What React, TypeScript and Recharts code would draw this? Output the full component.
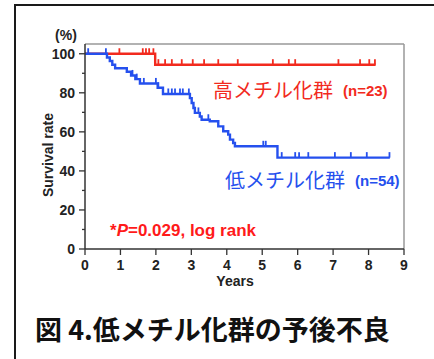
import React from 'react';
import { ComposedChart, Line, Scatter, XAxis, YAxis, ReferenceLine } from 'recharts';

// High-methylation group (n=23)
const highYears = [0, 1.98, 8.2];
const highSurvival = [100, 94.4, 94.4];
const highCensorYears = [0.97, 1.63, 1.72, 1.81, 1.93, 2.07, 2.26, 2.45, 2.73, 3.04, 3.36, 3.76, 4.31, 5.3, 5.75, 5.93, 7.15, 7.76, 8.02, 8.18];

// Low-methylation group (n=54)
const lowYears = [0, 0.62, 0.7, 0.77, 0.85, 1.18, 1.3, 1.42, 1.55, 2.05, 2.2, 2.96, 3.01, 3.06, 3.1, 3.24, 3.29, 3.52, 3.76, 3.9, 4.04, 4.09, 4.18, 4.23, 5.43, 8.6];
const lowSurvival = [100, 98.1, 96.3, 94.4, 92.6, 90.8, 88.9, 87.0, 84.8, 82.6, 79.4, 77.3, 74.8, 72.2, 69.7, 67.9, 66.2, 65.4, 62.8, 60.3, 58.6, 56.0, 54.3, 52.6, 46.8, 46.8];
const lowCensorYears = [0.09, 0.59, 1.34, 1.46, 1.66, 2.0, 2.07, 2.35, 2.45, 2.54, 2.68, 2.76, 2.93, 3.2, 3.48, 5.03, 5.1, 5.55, 5.93, 6.04, 6.3, 7.05, 7.5, 7.95, 8.59];

const xTicks = [0, 1, 2, 3, 4, 5, 6, 7, 8, 9];
const yTicks = [0, 10, 20, 30, 40, 50, 60, 70, 80, 90, 100];
const yLabelTicks = [0, 20, 40, 60, 80, 100];

const RED = '#f22a1e';
const BLUE = '#2550ee';

const survivalAt = (years: number[], values: number[], t: number) => {
  let v = values[0];
  for (let i = 0; i < years.length; i++) if (years[i] <= t) v = values[i];
  return v;
};

const highCurve = highYears.map((x, i) => ({ x, y: highSurvival[i] }));
const lowCurve = lowYears.map((x, i) => ({ x, y: lowSurvival[i] }));
const highCensor = highCensorYears.map((x) => ({ x, y: survivalAt(highYears, highSurvival, x) }));
const lowCensor = lowCensorYears.map((x) => ({ x, y: survivalAt(lowYears, lowSurvival, x) }));

const FONT = '"Liberation Sans", Arial, sans-serif';
const CJK = '"Noto Sans CJK JP", "Noto Sans", sans-serif';

const censorShape = (color: string) => (props: any) => {
  const { cx, cy } = props;
  if (cx == null || cy == null) return <g />;
  return <line x1={cx} x2={cx} y1={cy} y2={cy - 5.5} stroke={color} strokeWidth={1.8} />;
};

const YTick = (props: any) => {
  const { x, y, payload } = props;
  const major = yLabelTicks.includes(payload.value);
  return (
    <g>
      <line x1={x - (major ? 6 : 3)} x2={x} y1={y} y2={y} stroke="#333" strokeWidth={1.3} />
      {major && (
        <text x={x - 10} y={y} textAnchor="end" dominantBaseline="central" fontFamily={FONT} fontWeight="bold" fontSize={14} fill="#222">
          {payload.value}
        </text>
      )}
    </g>
  );
};

const XTick = (props: any) => {
  const { x, y, payload } = props;
  return (
    <g>
      <line x1={x} x2={x} y1={y} y2={y + 6} stroke="#333" strokeWidth={1.3} />
      <text x={x} y={y + 16} textAnchor="middle" dominantBaseline="central" fontFamily={FONT} fontWeight="bold" fontSize={14} fill="#222">
        {payload.value}
      </text>
    </g>
  );
};

export default function App() {
  return (
    <div style={{ position: 'absolute', left: 0, top: 0, width: 434, height: 359, overflow: 'hidden', background: '#fff' }}>
      <div style={{ position: 'absolute', left: 14, top: 4, width: 440, height: 380, border: '2px solid #1a1a1a', boxSizing: 'border-box' }} />
      <div style={{ position: 'absolute', left: 0, top: 0 }}>
        <ComposedChart width={434} height={359} margin={{ top: 44, right: 30, left: 25, bottom: 80 }}>
          <XAxis
            dataKey="x"
            type="number"
            domain={[0, 9]}
            ticks={xTicks}
            interval={0}
            allowDataOverflow
            height={30}
            tickSize={0}
            tickMargin={0}
            tickLine={false}
            tick={<XTick />}
            axisLine={{ stroke: '#333', strokeWidth: 1.5 }}
          />
          <YAxis
            type="number"
            domain={[0, 105]}
            ticks={yTicks}
            interval={0}
            allowDataOverflow
            width={60}
            tickSize={0}
            tickMargin={0}
            tickLine={false}
            tick={<YTick />}
            axisLine={{ stroke: '#333', strokeWidth: 1.5 }}
          />
          <ReferenceLine y={105} stroke="#999" strokeWidth={1.5} />
          <ReferenceLine x={9} stroke="#999" strokeWidth={1.5} />
          <Line data={highCurve} dataKey="y" type="stepAfter" stroke={RED} strokeWidth={2.4} dot={false} isAnimationActive={false} />
          <Line data={lowCurve} dataKey="y" type="stepAfter" stroke={BLUE} strokeWidth={2.4} dot={false} isAnimationActive={false} />
          <Scatter data={highCensor} dataKey="y" shape={censorShape(RED)} isAnimationActive={false} />
          <Scatter data={lowCensor} dataKey="y" shape={censorShape(BLUE)} isAnimationActive={false} />
        </ComposedChart>
      </div>
      <svg width={434} height={359} style={{ position: 'absolute', left: 0, top: 0, pointerEvents: 'none' }}>
        <text x={66} y={35} textAnchor="middle" dominantBaseline="central" fontFamily={FONT} fontWeight="bold" fontSize={14} fill="#222">(%)</text>
        <text x={48} y={155} textAnchor="middle" dominantBaseline="central" fontFamily={FONT} fontWeight="bold" fontSize={14} fill="#222" transform="rotate(-90 48 155)">Survival rate</text>
        <text x={235} y={281} textAnchor="middle" dominantBaseline="central" fontFamily={FONT} fontWeight="bold" fontSize={14} fill="#222">Years</text>
        <text x={213} y={89} dominantBaseline="central" fontFamily={CJK} fontSize={20} fill={RED}>高メチル化群</text>
        <text x={343} y={90} dominantBaseline="central" fontFamily={FONT} fontWeight="bold" fontSize={15} fill={RED}>(n=23)</text>
        <text x={225} y={179} dominantBaseline="central" fontFamily={CJK} fontSize={20} fill={BLUE}>低メチル化群</text>
        <text x={355} y={180} dominantBaseline="central" fontFamily={FONT} fontWeight="bold" fontSize={15} fill={BLUE}>(n=54)</text>
        <text x={110} y={230} dominantBaseline="central" fontFamily={FONT} fontWeight="bold" fontSize={17} fill="#ff1a1a">
          *<tspan fontStyle="italic">P</tspan>=0.029, log rank
        </text>
        <text x={35} y={328} dominantBaseline="central" fontFamily={CJK} fontWeight="bold" fontSize={27} fill="#111">図 4.低メチル化群の予後不良</text>
      </svg>
    </div>
  );
}
